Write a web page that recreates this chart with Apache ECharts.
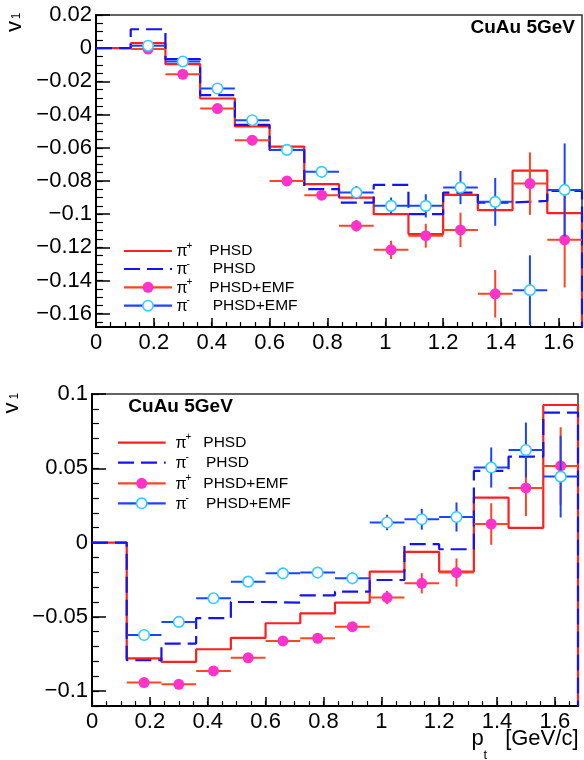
<!DOCTYPE html>
<html><head><meta charset="utf-8">
<script src="https://cdn.jsdelivr.net/npm/echarts@6/dist/echarts.min.js"></script>
<style>html,body{margin:0;padding:0;background:#fff}#c{width:584px;height:760px}</style>
</head><body><div id="c"></div>
<script>
// ---------- data ----------
const binEdges = [0, 0.12, 0.24, 0.36, 0.48, 0.6, 0.72, 0.84, 0.96, 1.08, 1.2, 1.32, 1.44, 1.56, 1.68];
const ptX = [0.18, 0.3, 0.42, 0.54, 0.66, 0.78, 0.9, 1.02, 1.14, 1.26, 1.38, 1.5, 1.62];
const halfBin = 0.06;

// top panel
const topPipPHSD = [0, 0.003, -0.0096, -0.0303, -0.0472, -0.0593, -0.0819, -0.090, -0.100, -0.112, -0.0884, -0.0976, -0.0738, -0.0994];
const topPimPHSD = [0, 0.0114, -0.0066, -0.0283, -0.0462, -0.0613, -0.0849, -0.093, -0.0824, -0.100, -0.087, -0.093, -0.092, -0.086];
const topPipEMF = [-0.0005, -0.0157, -0.0364, -0.0554, -0.080, -0.0886, -0.107, -0.1215, -0.113, -0.1095, -0.148, -0.0816, -0.1155];
const topPipEMFErr = [0.001, 0.001, 0.001, 0.0015, 0.002, 0.002, 0.0035, 0.0055, 0.0072, 0.0104, 0.0143, 0.0188, 0.0287];
const topPimEMF = [0.0015, -0.008, -0.0243, -0.0434, -0.0613, -0.0745, -0.087, -0.095, -0.095, -0.084, -0.0926, -0.1458, -0.0854];
const topPimEMFErr = [0.001, 0.001, 0.001, 0.0015, 0.002, 0.002, 0.004, 0.005, 0.007, 0.010, 0.0144, 0.021, 0.028];

// bottom panel
const botPipPHSD = [0, -0.0779, -0.0803, -0.0718, -0.0642, -0.0543, -0.0476, -0.0404, -0.0195, -0.0063, -0.0195, 0.0303, 0.0099, 0.0926];
const botPimPHSD = [0, -0.0792, -0.068, -0.0509, -0.040, -0.0404, -0.0355, -0.033, -0.0252, -0.0011, -0.0045, 0.0482, 0.0579, 0.0875];
const botPipEMF = [-0.0942, -0.0954, -0.0864, -0.0776, -0.0662, -0.0644, -0.0566, -0.037, -0.0274, -0.0202, 0.0125, 0.0368, 0.0516];
const botPipEMFErr = [0.001, 0.001, 0.0015, 0.0015, 0.002, 0.002, 0.003, 0.0045, 0.0068, 0.0095, 0.014, 0.019, 0.026];
const botPimEMF = [-0.0622, -0.0534, -0.0375, -0.0263, -0.0207, -0.0202, -0.024, 0.0135, 0.0157, 0.0172, 0.0505, 0.0623, 0.0444];
const botPimEMFErr = [0.001, 0.001, 0.0015, 0.002, 0.002, 0.0025, 0.004, 0.0052, 0.007, 0.0098, 0.0135, 0.0185, 0.0275];

// axis ranges and tick labels
const xRange = [0, 1.68];
const topYRange = [-0.168, 0.02];
const botYRange = [-0.11, 0.1];
const xTickLabels = [0, 0.2, 0.4, 0.6, 0.8, 1, 1.2, 1.4, 1.6];
const topYTickLabels = [0.02, 0, -0.02, -0.04, -0.06, -0.08, -0.1, -0.12, -0.14, -0.16];
const botYTickLabels = [0.1, 0.05, 0, -0.05, -0.1];
const legendNames = ['PHSD', 'PHSD', 'PHSD+EMF', 'PHSD+EMF'];
const legendCharges = ['+', '-', '+', '-'];
const panelTitle = 'CuAu 5GeV';

// ---------- styling ----------
const FONT = "'Liberation Sans', Arial, Helvetica, sans-serif";
const RED = '#ff1f1f', BLUE = '#1414f0', MAG = '#ff33cc', MAGERR = '#ff4422', CYAN = '#33ccff', CYERR = '#1a44ff';

function minorVals(lo, hi, step) {
  const out = [];
  const n0 = Math.ceil(lo / step - 1e-9), n1 = Math.floor(hi / step + 1e-9);
  for (let k = n0; k <= n1; k++) out.push(+(k * step).toFixed(4));
  return out;
}
const fmt = v => String(v).replace('-', '\u2212');

// ROOT-style histogram outline: returns to the frame minimum at the last edge
function stepPoints(edges, vals, base) {
  const pts = [];
  for (let i = 0; i < vals.length; i++) { pts.push([edges[i], vals[i]]); pts.push([edges[i + 1], vals[i]]); }
  pts.push([edges[edges.length - 1], base]);
  return pts;
}

function histSeries(xi, yi, vals, base, color, dashed, z) {
  return {
    type: 'line', xAxisIndex: xi, yAxisIndex: yi, data: stepPoints(binEdges, vals, base),
    showSymbol: false, symbol: 'none', z: z, clip: true,
    lineStyle: { color: color, width: 2.2, type: dashed ? [16, 7] : 'solid' }
  };
}
function errSeries(xi, yi, ys, es, color, z) {
  return {
    type: 'custom', xAxisIndex: xi, yAxisIndex: yi, clip: true, z: z,
    data: ptX.map((x, i) => [x, ys[i], es[i]]),
    renderItem: function (params, api) {
      const x = api.value(0), y = api.value(1), e = api.value(2);
      const l = api.coord([x - halfBin, y]), r = api.coord([x + halfBin, y]);
      const t = api.coord([x, y + e]), b = api.coord([x, y - e]);
      return { type: 'group', children: [
        { type: 'line', shape: { x1: l[0], y1: l[1], x2: r[0], y2: r[1] }, style: { stroke: color, lineWidth: 2 } },
        { type: 'line', shape: { x1: t[0], y1: t[1], x2: b[0], y2: b[1] }, style: { stroke: color, lineWidth: 2 } }
      ] };
    }
  };
}
function markSeries(xi, yi, ys, open, z) {
  return {
    type: 'scatter', xAxisIndex: xi, yAxisIndex: yi, z: z, symbol: 'circle', symbolSize: open ? 10.5 : 11,
    data: ptX.map((x, i) => [x, ys[i]]),
    itemStyle: open ? { color: '#ffffff', borderColor: CYAN, borderWidth: 1.6, opacity: 1 } : { color: MAG, opacity: 1 }
  };
}

function mainX(g) {
  return {
    type: 'value', gridIndex: g, min: xRange[0], max: xRange[1], position: 'bottom',
    axisLine: { show: true, onZero: false, lineStyle: { color: '#000', width: 2 } },
    axisTick: { show: true, inside: true, length: 9, customValues: xTickLabels, lineStyle: { color: '#000', width: 1.5 } },
    axisLabel: { show: true, customValues: xTickLabels, formatter: fmt, fontSize: 22, fontFamily: FONT, color: '#000', margin: 5 },
    splitLine: { show: false }
  };
}
function minorX(g) {
  return {
    type: 'value', gridIndex: g, min: xRange[0], max: xRange[1], position: 'bottom',
    axisLine: { show: false, onZero: false }, axisLabel: { show: false }, splitLine: { show: false },
    axisTick: { show: true, inside: true, length: 5, customValues: minorVals(0, 1.65, 0.05), lineStyle: { color: '#000', width: 1.2 } }
  };
}
function mainY(g, rng, labels) {
  return {
    type: 'value', gridIndex: g, min: rng[0], max: rng[1], position: 'left',
    axisLine: { show: true, onZero: false, lineStyle: { color: '#000', width: 2 } },
    axisTick: { show: true, inside: true, length: 14, customValues: labels, lineStyle: { color: '#000', width: 1.5 } },
    axisLabel: { show: true, customValues: labels, formatter: fmt, fontSize: 22, fontFamily: FONT, color: '#000', margin: 4 },
    splitLine: { show: false }
  };
}
function minorY(g, rng, step) {
  return {
    type: 'value', gridIndex: g, min: rng[0], max: rng[1], position: 'left',
    axisLine: { show: false, onZero: false }, axisLabel: { show: false }, splitLine: { show: false },
    axisTick: { show: true, inside: true, length: 7, customValues: minorVals(rng[0], rng[1], step), lineStyle: { color: '#000', width: 1.2 } }
  };
}

// ---------- graphics (legend, titles) ----------
const graphics = [];
function txt(x, y, s, size, opts) {
  graphics.push({ type: 'text', x: x, y: y, silent: true, z: 100,
    style: { text: s, font: (opts && opts.bold ? 'bold ' : '') + size + 'px ' + FONT, fill: '#000',
      textAlign: (opts && opts.align) || 'left', textVerticalAlign: 'middle' } });
}
function legend(rows, x1, x2, mx, piX, nameX) {
  const styles = [
    { stroke: RED, dash: null, marker: null },
    { stroke: BLUE, dash: [16, 7], marker: null },
    { stroke: MAGERR, dash: null, marker: 'fill' },
    { stroke: CYERR, dash: null, marker: 'open' }
  ];
  rows.forEach((y, i) => {
    const st = styles[i];
    graphics.push({ type: 'line', silent: true, z: 100, shape: { x1: x1, y1: y, x2: x2, y2: y },
      style: { stroke: st.stroke, lineWidth: 2.2, lineDash: st.dash } });
    if (st.marker === 'fill') graphics.push({ type: 'circle', silent: true, z: 101, shape: { cx: mx, cy: y, r: 5.5 }, style: { fill: MAG } });
    if (st.marker === 'open') graphics.push({ type: 'circle', silent: true, z: 101, shape: { cx: mx, cy: y, r: 5.2 }, style: { fill: '#fff', stroke: CYAN, lineWidth: 1.6 } });
    txt(piX, y + 1, '\u03c0', 16);
    txt(piX + 10, y - 5, legendCharges[i], 10);
    txt(nameX[i], y, legendNames[i], 15.5);
  });
}
legend([251, 269, 287.3, 305.7], 124, 172, 148, 176.5, [209.3, 212.7, 209.3, 212.7]);
legend([442.7, 462.7, 483.3, 503.3], 118, 165.7, 141.7, 175.5, [203.3, 206, 203.3, 206]);

txt(575, 27.5, panelTitle, 19, { bold: true, align: 'right' });
txt(128.3, 407, panelTitle, 19, { bold: true });

// y-axis titles (rotated)
function yTitle(px, py, sx, sy) {
  graphics.push({ type: 'group', x: px, y: py, rotation: Math.PI / 2, silent: true, z: 100, children: [
    { type: 'text', x: 0, y: 0, style: { text: 'v', font: '22px ' + FONT, fill: '#000', textAlign: 'left', textVerticalAlign: 'middle' } },
    { type: 'text', x: sx, y: sy, style: { text: '1', font: '12px ' + FONT, fill: '#000', textAlign: 'center', textVerticalAlign: 'middle' } }
  ] });
}
yTitle(15, 32, 16, 1.5);
yTitle(12.2, 413.5, 17.3, 2.3);

// x-axis title
txt(578.5, 739, '[GeV/c]', 22, { align: 'right' });
txt(471.5, 739, 'p', 22);
txt(483.5, 755, 't', 13);

// ---------- chart ----------
const chart = echarts.init(document.getElementById('c'), null, { renderer: 'canvas' });
chart.setOption({
  animation: false,
  backgroundColor: '#fff',
  grid: [
    { left: 96, top: 15, width: 486, height: 312, show: true, borderColor: '#333', borderWidth: 1.5, backgroundColor: 'transparent', containLabel: false },
    { left: 92, top: 394, width: 486, height: 312, show: true, borderColor: '#333', borderWidth: 1.5, backgroundColor: 'transparent', containLabel: false }
  ],
  xAxis: [mainX(0), minorX(0), mainX(1), minorX(1)],
  yAxis: [
    mainY(0, topYRange, topYTickLabels), minorY(0, topYRange, 0.005),
    mainY(1, botYRange, botYTickLabels), minorY(1, botYRange, 0.01)
  ],
  series: [
    histSeries(0, 0, topPipPHSD, topYRange[0], RED, false, 2),
    histSeries(0, 0, topPimPHSD, topYRange[0], BLUE, true, 3),
    errSeries(0, 0, topPipEMF, topPipEMFErr, MAGERR, 4),
    markSeries(0, 0, topPipEMF, false, 5),
    errSeries(0, 0, topPimEMF, topPimEMFErr, CYERR, 6),
    markSeries(0, 0, topPimEMF, true, 7),
    histSeries(2, 2, botPipPHSD, botYRange[0], RED, false, 2),
    histSeries(2, 2, botPimPHSD, botYRange[0], BLUE, true, 3),
    errSeries(2, 2, botPipEMF, botPipEMFErr, MAGERR, 4),
    markSeries(2, 2, botPipEMF, false, 5),
    errSeries(2, 2, botPimEMF, botPimEMFErr, CYERR, 6),
    markSeries(2, 2, botPimEMF, true, 7)
  ],
  graphic: graphics
});
</script></body></html>
